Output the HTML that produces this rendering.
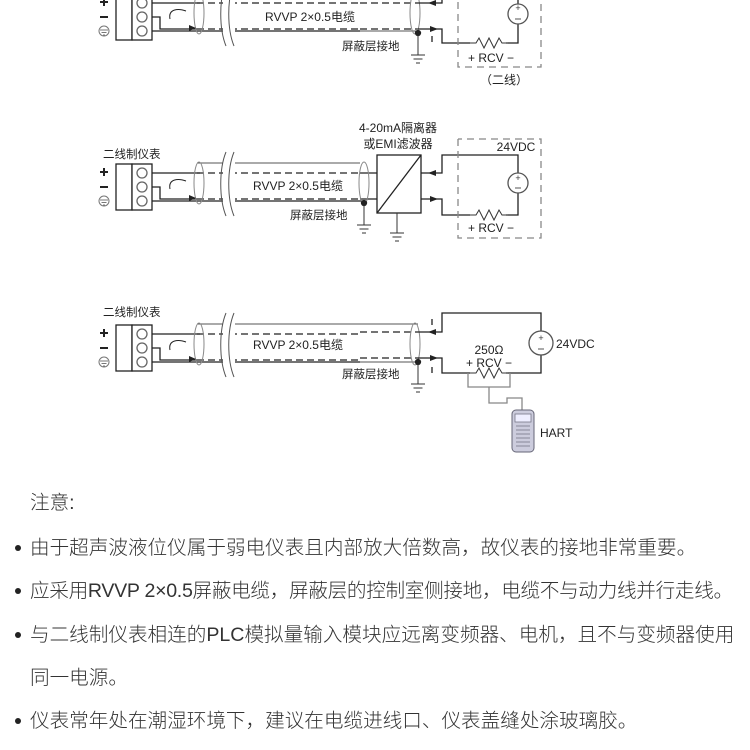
<!DOCTYPE html>
<html><head><meta charset="utf-8"><style>
html,body{margin:0;padding:0;background:#fff;width:750px;height:750px;overflow:hidden}
svg{position:absolute;left:0;top:0}
.t{position:absolute;left:30px;font-family:"Liberation Sans","Noto Sans CJK SC",sans-serif;font-size:19.6px;color:#333;white-space:nowrap;font-weight:300;line-height:24px}
.b{position:absolute;left:15px;width:6px;height:6px;border-radius:50%;background:#222}
</style></head><body>
<svg width="750" height="470" viewBox="0 0 750 470" font-family="Liberation Sans, Noto Sans CJK SC, sans-serif" font-size="12" fill="none" stroke="#222" stroke-width="1.3">
<defs>
<g id="L">
<rect x="116" y="0" width="16" height="46" fill="#fff"/>
<rect x="132" y="0" width="20" height="46" fill="#fff"/>
<circle cx="142" cy="9" r="5" stroke="#666"/><circle cx="142" cy="23" r="5" stroke="#666"/><circle cx="142" cy="37" r="5" stroke="#666"/>
<path d="M104 4v8M100 8h8M100 23h8" stroke="#222" stroke-width="2"/>
<circle cx="104" cy="37" r="5" stroke="#777" stroke-width="1"/><path d="M100 36h8M101.5 38.5h5M103 41h2" stroke="#777" stroke-width="1"/>
<path d="M152 9H200M152 23H160V35H197M152 37H360"/>
<path d="M197 9H360M197 35H360" stroke-dasharray="7,4"/>
<path d="M197 -1H360" stroke="#555" stroke-width="1"/>
<ellipse cx="199" cy="19" rx="5" ry="21" stroke="#888" stroke-width="1"/>
<path d="M170 25 C168 15 178 14 186 17" stroke-width="1"/>
<polygon points="196,34 189,31 189,37" fill="#222" stroke="none"/>
<rect x="223" y="-12" width="12" height="64" fill="#fff" stroke="none"/>
<path d="M226 -12 C219 5 219 35 226 52M234 -12 C227 5 227 35 234 52" stroke="#555" stroke-width="1"/>
</g>
<g id="G"><path d="M0 0v20M-7 20h14M-4.5 24h9M-2 28h4" stroke="#333" stroke-width="1"/></g>
<g id="R"><path d="M0 0h6l3-5 5 10 5-10 5 10 5-10 3 5h6" stroke="#333" stroke-width="1"/></g>
</defs>

<!-- Diagram 1 -->
<use href="#L" y="-6"/>
<path d="M360 3H418M360 29H418" stroke-dasharray="7,4"/>
<path d="M360 31H418M360 -7H418" stroke="#555" stroke-width="1"/>
<ellipse cx="415" cy="13" rx="5" ry="21" stroke="#888" stroke-width="1"/>
<circle cx="418" cy="33" r="2.5" fill="#222"/>
<use href="#G" x="418" y="35"/>
<path d="M418 3H442V-10H518V4M418 29H442V43H470M506 43H518V24"/>
<polygon points="428,3 436,0 436,6" fill="#222" stroke="none"/>
<polygon points="438,29 430,26 430,32" fill="#222" stroke="none"/>
<use href="#R" x="470" y="43"/>
<circle cx="518" cy="14" r="10" stroke="#555"/>
<text x="518" y="11" font-size="9" fill="#333" stroke="none" text-anchor="middle">+</text>
<path d="M515 19h6" stroke="#555" stroke-width="1"/>
<path d="M458 -10V67H541V-10" stroke="#888" stroke-dasharray="7,5" stroke-width="1.3"/>
<text x="491" y="62" fill="#222" stroke="none" text-anchor="middle">+ RCV −</text>
<text x="504" y="84" fill="#222" stroke="none" text-anchor="middle">（二线）</text>
<text x="310" y="21" fill="#222" stroke="none" text-anchor="middle">RVVP 2×0.5电缆</text>
<text x="342" y="50" fill="#222" stroke="none" font-size="11.5">屏蔽层接地</text>
<path d="M432 36v6" stroke-width="1.3"/>

<!-- Diagram 2 -->
<text x="103" y="158" fill="#222" stroke="none" font-size="11.5">二线制仪表</text>
<use href="#L" y="164"/>
<path d="M360 173H377M360 199H377M360 201H364" />
<ellipse cx="364" cy="183" rx="5" ry="21" stroke="#888" stroke-width="1"/>
<circle cx="364" cy="203" r="2.5" fill="#222"/>
<use href="#G" x="364" y="205"/>
<rect x="377" y="155" width="44" height="58" fill="#fff"/>
<path d="M377 213L421 155"/>
<use href="#G" x="397" y="213" />
<path d="M421 173H442V155H518V173M421 199H442V215H470M506 215H518V193"/>
<polygon points="428,173 436,170 436,176" fill="#222" stroke="none"/>
<polygon points="438,199 430,196 430,202" fill="#222" stroke="none"/>
<use href="#R" x="470" y="215"/>
<circle cx="518" cy="183" r="10" stroke="#555"/>
<text x="518" y="181" font-size="9" fill="#333" stroke="none" text-anchor="middle">+</text>
<path d="M515 188h6" stroke="#555" stroke-width="1"/>
<path d="M458 139V238H541V139H458" stroke="#888" stroke-dasharray="7,5" stroke-width="1.3"/>
<text x="516" y="151" fill="#222" stroke="none" text-anchor="middle">24VDC</text>
<text x="491" y="232" fill="#222" stroke="none" text-anchor="middle">+ RCV −</text>
<text x="398" y="132" fill="#222" stroke="none" text-anchor="middle">4-20mA隔离器</text>
<text x="398" y="148" fill="#222" stroke="none" text-anchor="middle">或EMI滤波器</text>
<text x="298" y="190" fill="#222" stroke="none" text-anchor="middle">RVVP 2×0.5电缆</text>
<text x="290" y="219" fill="#222" stroke="none" font-size="11.5">屏蔽层接地</text>

<!-- Diagram 3 -->
<text x="103" y="316" fill="#222" stroke="none" font-size="11.5">二线制仪表</text>
<use href="#L" y="325"/>
<path d="M360 332H418M360 358H418" stroke-dasharray="7,4"/>
<path d="M360 362H418M360 324H418" stroke="#555" stroke-width="1"/>
<ellipse cx="415" cy="344" rx="5" ry="21" stroke="#888" stroke-width="1"/>
<circle cx="418" cy="362" r="2.5" fill="#222"/>
<use href="#G" x="418" y="364"/>
<path d="M418 332H442V313H541V331M541 355V373H506M470 373H442V358H418"/>
<polygon points="428,332 436,329 436,335" fill="#222" stroke="none"/>
<polygon points="438,358 430,355 430,361" fill="#222" stroke="none"/>
<use href="#R" x="470" y="373"/>
<circle cx="541" cy="343" r="12" stroke="#555"/>
<text x="541" y="341" font-size="9" fill="#333" stroke="none" text-anchor="middle">+</text>
<path d="M538 349h6" stroke="#555" stroke-width="1"/>
<text x="556" y="348" fill="#222" stroke="none">24VDC</text>
<text x="489" y="354" fill="#222" stroke="none" text-anchor="middle">250Ω</text>
<text x="489" y="367" fill="#222" stroke="none" text-anchor="middle">+ RCV −</text>
<path d="M468 373V387H510V373M489 387V403H507V398H522V410" stroke="#888" stroke-width="1.3"/>
<rect x="512" y="410" width="22" height="42" rx="4" fill="#ccd" stroke="#667" stroke-width="1"/>
<rect x="515" y="414" width="16" height="8" fill="#eef" stroke="#778" stroke-width="0.8"/>
<path d="M516 426h14M516 430h14M516 434h14M516 438h14M516 442h14M516 446h14" stroke="#889" stroke-width="1"/>
<text x="540" y="437" fill="#222" stroke="none">HART</text>
<text x="298" y="349" fill="#222" stroke="none" text-anchor="middle">RVVP 2×0.5电缆</text>
<text x="342" y="378" fill="#222" stroke="none" font-size="11.5">屏蔽层接地</text>
<path d="M432 319v6M432 367v6" stroke-width="1.3"/>
</svg>

<div class="t" style="top:491px">注意:</div>
<div class="b" style="top:545px"></div><div class="t" style="top:536px">由于超声波液位仪属于弱电仪表且内部放大倍数高，故仪表的接地非常重要。</div>
<div class="b" style="top:588px"></div><div class="t" style="top:579px;letter-spacing:-0.3px">应采用RVVP 2×0.5屏蔽电缆，屏蔽层的控制室侧接地，电缆不与动力线并行走线。</div>
<div class="b" style="top:632px"></div><div class="t" style="top:623px">与二线制仪表相连的PLC模拟量输入模块应远离变频器、电机，且不与变频器使用</div>
<div class="t" style="top:666px">同一电源。</div>
<div class="b" style="top:718px"></div><div class="t" style="top:709px">仪表常年处在潮湿环境下，建议在电缆进线口、仪表盖缝处涂玻璃胶。</div>
</body></html>
